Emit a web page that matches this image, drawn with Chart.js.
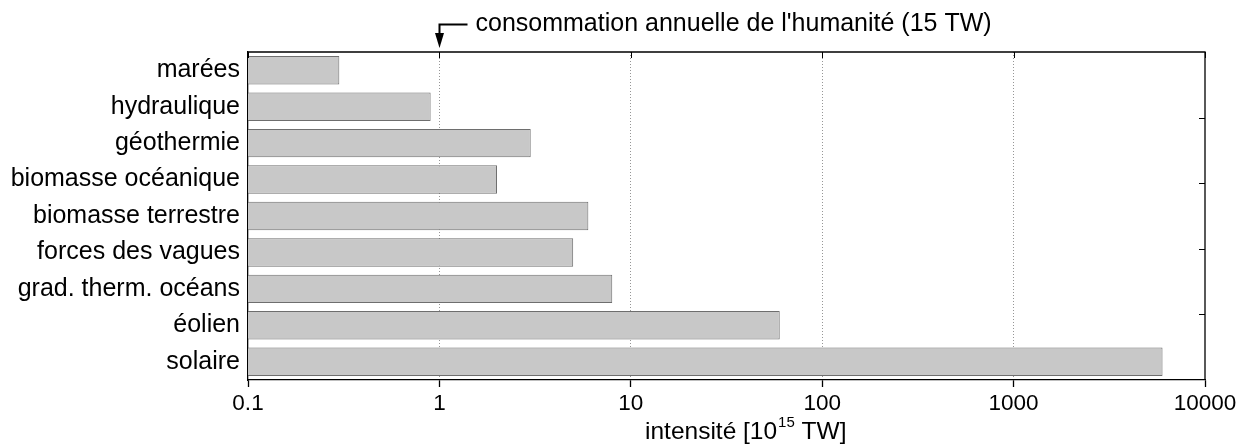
<!DOCTYPE html>
<html>
<head>
<meta charset="utf-8">
<script src="https://cdn.jsdelivr.net/npm/chart.js@4/dist/chart.umd.min.js"></script>
<style>
html,body{margin:0;padding:0;background:#fff;}
#wrap{width:1240px;height:444px;position:relative;}
</style>
</head>
<body>
<div id="wrap"><canvas id="c" width="1240" height="444"></canvas></div>
<script>
const categories = ["marées","hydraulique","géothermie","biomasse océanique","biomasse terrestre","forces des vagues","grad. therm. océans","éolien","solaire"];
const values = [0.3, 0.9, 3, 2, 6, 5, 8, 60, 6000];
const xTicks = [0.1, 1, 10, 100, 1000, 10000];
const xTickLabels = ["0.1","1","10","100","1000","10000"];
const annotationValue = 1;
const annotationText = "consommation annuelle de l'humanité (15 TW)";
const axisTitleMain = "intensité [10";
const axisTitleSup = "15";
const axisTitleEnd = " TW]";

const FONT = "Arial, 'Liberation Sans', sans-serif";

const framePlugin = {
  id: 'frame',
  afterDraw(chart) {
    const ctx = chart.ctx;
    const a = chart.chartArea;
    const xs = chart.scales.x;
    ctx.save();
    ctx.strokeStyle = '#000';
    ctx.lineWidth = 1.3;
    // top and right frame
    ctx.beginPath();
    ctx.moveTo(a.left, a.top); ctx.lineTo(a.right, a.top); ctx.lineTo(a.right, a.bottom);
    ctx.stroke();
    // inner ticks on top
    ctx.lineWidth = 1;
    xTicks.forEach(v => {
      const px = Math.round(xs.getPixelForValue(v)) + 0.5;
      ctx.beginPath(); ctx.moveTo(px, a.top); ctx.lineTo(px, a.top + 6); ctx.stroke();
    });
    // inner ticks on right (5 divisions)
    for (let k = 1; k < 5; k++) {
      const py = Math.round(a.top + k * (a.bottom - a.top) / 5) + 0.5;
      ctx.beginPath(); ctx.moveTo(a.right, py); ctx.lineTo(a.right - 6, py); ctx.stroke();
    }
    // annotation arrow
    const ax = Math.round(xs.getPixelForValue(annotationValue)) + 0.5;
    const ay = 24.5;
    ctx.lineWidth = 2;
    ctx.beginPath();
    ctx.moveTo(ax + 28, ay); ctx.lineTo(ax, ay); ctx.lineTo(ax, a.top - 12);
    ctx.stroke();
    ctx.fillStyle = '#000';
    ctx.beginPath();
    ctx.moveTo(ax - 4.5, a.top - 19); ctx.lineTo(ax + 4.5, a.top - 19); ctx.lineTo(ax, a.top - 4);
    ctx.closePath(); ctx.fill();
    ctx.font = '25px ' + FONT;
    ctx.textBaseline = 'middle';
    ctx.textAlign = 'left';
    ctx.fillText(annotationText, ax + 36, ay);
    // axis title with superscript
    const tx = 645, ty = 432;
    ctx.font = '24.5px ' + FONT;
    ctx.fillText(axisTitleMain, tx, ty);
    let w = ctx.measureText(axisTitleMain).width;
    ctx.font = '15px ' + FONT;
    ctx.fillText(axisTitleSup, tx + w + 1, ty - 9);
    const w2 = ctx.measureText(axisTitleSup).width;
    ctx.font = '24.5px ' + FONT;
    ctx.fillText(axisTitleEnd, tx + w + w2 + 1, ty);
    ctx.restore();
  }
};

new Chart(document.getElementById('c'), {
  type: 'bar',
  data: {
    labels: categories,
    datasets: [{
      data: values,
      backgroundColor: 'rgb(200,200,200)',
      borderColor: 'rgb(110,110,110)',
      borderWidth: 1,
      barPercentage: 0.78,
      categoryPercentage: 1
    }]
  },
  options: {
    indexAxis: 'y',
    responsive: false,
    animation: false,
    devicePixelRatio: 1,
    layout: { padding: { top: 52, right: 35, left: 0, bottom: 0 } },
    plugins: { legend: { display: false }, tooltip: { enabled: false }, title: { display: false } },
    scales: {
      x: {
        type: 'logarithmic',
        position: 'bottom',
        min: 0.1,
        max: 10000,
        afterBuildTicks(scale) { scale.ticks = xTicks.map(v => ({ value: v })); },
        afterFit(scale) { scale.height = 64; },
        ticks: {
          callback: (v) => { const i = xTicks.indexOf(v); return i >= 0 ? xTickLabels[i] : ''; },
          color: '#000',
          font: { family: FONT, size: 22.5 },
          padding: 3,
          maxRotation: 0,
          autoSkip: false
        },
        grid: {
          color: (ctx) => (ctx.tick && (ctx.tick.value === 0.1 || ctx.tick.value === 10000)) ? 'rgba(0,0,0,0)' : 'rgb(150,150,150)',
          lineWidth: 1,
          tickColor: '#000',
          tickLength: 7,
          tickWidth: 1.3,
          tickBorderDash: []
        },
        border: { display: true, color: '#000', width: 1.3, dash: [1, 2] }
      },
      y: {
        type: 'category',
        offset: true,
        afterFit(scale) { scale.width = 248; },
        ticks: {
          color: '#000',
          font: { family: FONT, size: 25 },
          padding: 8,
          autoSkip: false
        },
        grid: { display: false, drawTicks: false },
        border: { display: true, color: '#000', width: 1.3 }
      }
    }
  },
  plugins: [framePlugin]
});
</script>
</body>
</html>
